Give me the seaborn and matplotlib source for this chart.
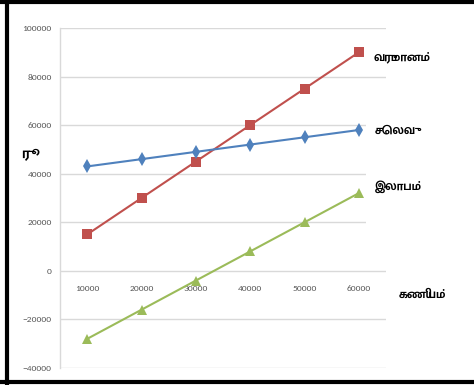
import matplotlib
matplotlib.use("Agg")
import matplotlib.pyplot as plt
import matplotlib.patches as mpatches
import pandas as pd
import seaborn as sns

# Quantity produced (x) and money values (y)
quantity = [10000, 20000, 30000, 40000, 50000, 60000]
income = [15000, 30000, 45000, 60000, 75000, 90000]
expense = [43000, 46000, 49000, 52000, 55000, 58000]
profit = [-28000, -16000, -4000, 8000, 20000, 32000]

series_names = ["வருமானம்", "செலவு", "இலாபம்"]
x_title = "கணியம்"
y_title = "ரூ"
y_ticks = [-40000, -20000, 0, 20000, 40000, 60000, 80000, 100000]

colors = {"வருமானம்": "#C0504D", "செலவு": "#4F81BD", "இலாபம்": "#9BBB59"}
markers = {"வருமானம்": "s", "செலவு": "d", "இலாபம்": "^"}

df = pd.concat([
    pd.DataFrame({"x": quantity, "y": vals, "series": name})
    for name, vals in zip(series_names, [income, expense, profit])
])

sns.set_style("white")
tick_font = ["Carlito", "Liberation Sans Narrow", "Liberation Sans", "DejaVu Sans"]
tamil_font = ["Mukta Malar", "Hind Madurai", "DejaVu Sans"]

fig = plt.figure(figsize=(4.74, 3.85), dpi=100)
ax = fig.add_axes([60 / 474, 1 - 368 / 385, 326 / 474, 340 / 385])

sns.lineplot(data=df, x="x", y="y", hue="series", style="series",
             palette=colors, markers=markers, dashes=False, linewidth=1.5,
             markersize=7, markeredgewidth=0, legend=False, ax=ax, zorder=3)

ax.set_xlim(5000, 65000)
ax.set_ylim(-40000, 100000)
ax.set_yticks(y_ticks)
ax.set_xticks(quantity)
ax.yaxis.grid(True, color="#D9D9D9", linewidth=1)
ax.set_axisbelow(True)

for s in ["top", "right"]:
    ax.spines[s].set_visible(False)
# category labels sit just under the zero line
ax.spines["bottom"].set_position(("data", 0))
ax.spines["bottom"].set_visible(False)
ax.spines["left"].set_color("#D9D9D9")
ax.spines["left"].set_linewidth(1)

ax.tick_params(axis="both", length=0, labelsize=6.8, labelcolor="#595959")
ax.tick_params(axis="y", pad=6)
ax.tick_params(axis="x", pad=10)
for lab in ax.get_xticklabels() + ax.get_yticklabels():
    lab.set_fontfamily(tick_font)
ax.set_xlabel("")
ax.set_ylabel("")

# gap in the gridlines next to the right-hand labels
ax.add_patch(mpatches.Rectangle((366 / 474, 1 - 245 / 385), 22 / 474, 145 / 385,
                                transform=fig.transFigure, facecolor="white",
                                edgecolor="none", zorder=1))

lab_kw = dict(fontsize=9, fontweight="bold", color="black", family=tamil_font,
              va="center", ha="left")
fig.text(374 / 474, 1 - 57 / 385, series_names[0], **lab_kw)
fig.text(375 / 474, 1 - 131 / 385, series_names[1], **lab_kw)
fig.text(375 / 474, 1 - 187 / 385, series_names[2], **lab_kw)
fig.text(399 / 474, 1 - 295 / 385, x_title, **lab_kw)
fig.text(25 / 474, 1 - 155 / 385, y_title, fontsize=11, fontweight="bold",
         color="black", family=tamil_font, va="center", ha="center")

# outer frame
frame_kw = dict(color="black", linewidth=3, solid_capstyle="butt")
fig.add_artist(plt.Line2D([7 / 474, 7 / 474], [0, 1], transform=fig.transFigure, **frame_kw))
fig.add_artist(plt.Line2D([0, 1], [1 - 1.5 / 385, 1 - 1.5 / 385], transform=fig.transFigure, **frame_kw))
fig.add_artist(plt.Line2D([0, 1], [1 - 382 / 385, 1 - 382 / 385], transform=fig.transFigure, **frame_kw))

fig.savefig("out.png", dpi=100)
